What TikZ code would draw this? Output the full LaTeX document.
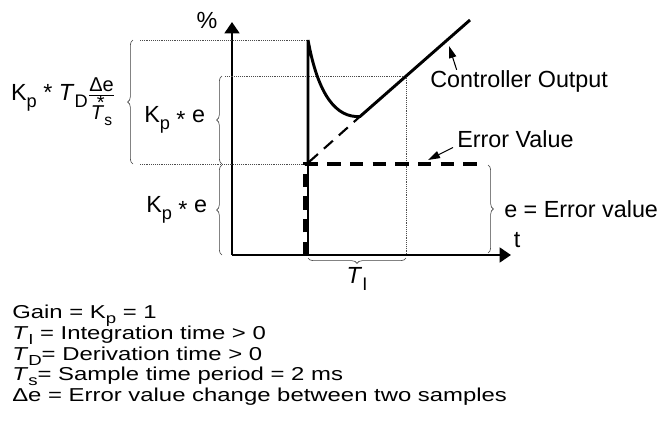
\documentclass[tikz,border=0pt]{standalone}
\usepackage{fontspec}
\setmainfont{Liberation Sans}
\newfontfamily\widefont{Liberation Sans}[FakeStretch=1.28]
\usetikzlibrary{arrows.meta,decorations.pathreplacing,calc}

\newcommand{\sub}[1]{\raisebox{-0.3em}{\scalebox{0.78}{#1}}}
\newcommand{\Kp}{K\sub{p}}
\newcommand{\Tx}[1]{\textit{T}\sub{#1}}
\newcommand{\mul}{\raisebox{-0.22em}{*}}

\begin{document}
\begin{tikzpicture}[x=0.75pt,y=-0.75pt,
    axis/.style={line width=2pt,-{Triangle[length=8.5pt,width=11pt]}},
    guide/.style={line width=0.7pt,black!70,dash pattern=on 0.7pt off 0.7pt},
    outline/.style={line width=2.2pt},
    errline/.style={line width=3pt,dash pattern=on 10pt off 7pt},
    ramp/.style={line width=1.6pt,dash pattern=on 9pt off 6pt},
    brc/.style={decorate,decoration={brace,amplitude=4pt},line width=0.45pt,black!75},
    lbl/.style={font=\fontsize{17.5}{20}\selectfont,inner sep=0pt,text=black},
    note/.style={font=\widefont\fontsize{14}{16}\selectfont,inner sep=0pt,anchor=base west},
    pointer/.style={line width=0.8pt,-{Triangle[length=9pt,width=5.5pt]}}]

    \useasboundingbox (0,0) rectangle (671,429);

    % axes
    \coordinate (O) at (232,255);
    \coordinate (ytip) at (232,22);
    \coordinate (xtip) at (511,255);
    \draw[axis] (O) -- (ytip);
    \draw[axis] (O) -- (xtip);
    \node[lbl] (ylbl) at (207,20) {\%};
    \node[lbl] (tlbl) at (517,240) {t};

    % key points
    \coordinate (jump) at (308,40);
    \coordinate (stepfoot) at (308,255);
    \coordinate (stepknee) at (308,164);
    \coordinate (bend) at (360,116.5);
    \coordinate (coend) at (470,20);
    \coordinate (tiend) at (406,76);
    \coordinate (tifoot) at (406,255);

    % guide lines
    \draw[guide] (140,40) -- (jump);
    \draw[guide] (225,76) -- (tiend);
    \draw[guide] (140,164) -- (stepknee);
    \draw[guide] (tiend) -- (tifoot);

    % error value step
    \draw[errline] (305,255) -- (305,164) -- (480,164);

    % controller output
    \draw[line width=1.4pt] (stepfoot) -- (stepknee);
    \draw[outline] (stepknee) -- (jump) .. controls (318,95) and (336,118) .. (bend) -- (coend);
    \draw[ramp] (309,162) -- (bend);

    % braces
    \draw[brc] (133,164) -- (133,40)
        node[midway,left=13pt,lbl] (kdlbl) {\Kp\ * \Tx{D}$\frac{\mbox{\fontsize{15}{16}\selectfont Δe}}{\mbox{\fontsize{15}{16}\selectfont\rlap{\hspace{0.3em}\raisebox{0.5em}{*}}\Tx{s}}}$};
    \draw[brc] (222,164) -- (222,76)
        node[midway,left=12.5pt,lbl] (kplbl) {\Kp\ \mul\ e};
    \draw[brc] (222,255) -- (222,165)
        node[midway,left=11pt,lbl] (kelbl) {\Kp\ \mul\ e};
    \draw[brc] (488,165) -- (488,253)
        node[midway,right=12pt,lbl] (evlbl) {e = Error value};
    \draw[brc] (tifoot |- 0,258) -- (stepfoot |- 0,258)
        node[midway,below=7pt,lbl] (tilbl) {\Tx{I}};

    % callouts
    \node[lbl,anchor=base west] (colbl) at (430,87) {Controller Output};
    \coordinate (cohit) at (449,46);
    \draw[pointer] ([xshift=20pt]colbl.north west) -- (cohit);

    \node[lbl,anchor=base west] (ervlbl) at (457,147) {Error Value};
    \coordinate (ervhit) at (428,160);
    \draw[pointer] ([xshift=-3pt]ervlbl.south west) -- (ervhit);

    % legend
    \node[note] (gain) at (12,318) {Gain = \Kp\ = 1};
    \node[note] (tint) at (12,339) {\Tx{I} = Integration time > 0};
    \node[note] (tder) at (12,360) {\Tx{D}= Derivation time > 0};
    \node[note] (tsam) at (12,380) {\Tx{s}= Sample time period = 2 ms};
    \node[note] (dele) at (12,401) {Δe = Error value change between two samples};

\end{tikzpicture}
\end{document}
